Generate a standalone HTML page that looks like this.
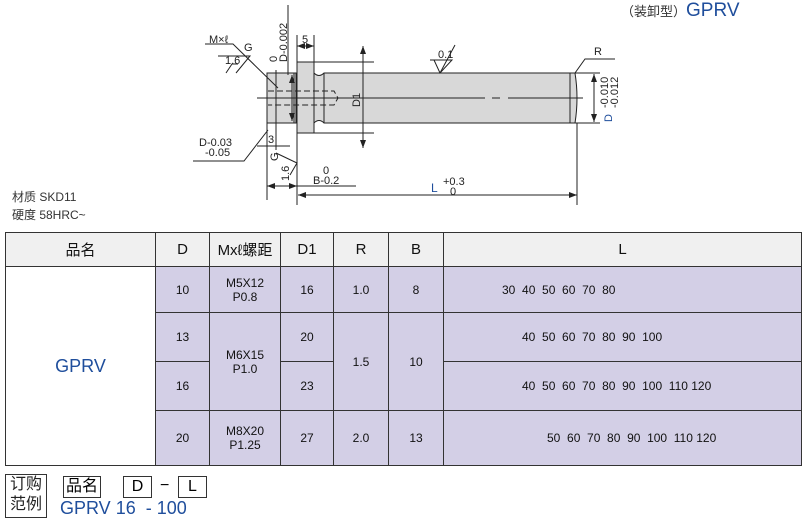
<!DOCTYPE html>
<html><head><meta charset="utf-8"><style>
body{margin:0;width:803px;height:519px;background:#fff;position:relative;overflow:hidden;font-family:"Liberation Sans","Noto Sans CJK SC",sans-serif;}
.t{position:absolute;white-space:nowrap}
table{position:absolute;left:5px;top:232px;border-collapse:collapse;font-family:"Liberation Sans","Noto Sans CJK SC",sans-serif;}
td{border:1.5px solid #333;text-align:center;padding:0;font-size:12px;color:#111}
.h td{background:#f0f0f0;font-size:15px;height:33px}
.p{background:#d3cfe6}
</style></head><body>
<div class="t" style="left:621px;top:0px;font-size:13px;color:#333">（装卸型）<span style="color:#1f4e9c;font-size:19px">GPRV</span></div>
<div class="t" style="left:12px;top:188px;font-size:12px;color:#333">材质 SKD11</div>
<div class="t" style="left:12px;top:206px;font-size:12px;color:#333">硬度 58HRC~</div>
<svg width="803" height="230" style="position:absolute;left:0;top:0" font-family="Liberation Sans, sans-serif" font-size="11" fill="#222">
<defs><marker id="a" markerWidth="8" markerHeight="6" refX="8" refY="3" orient="auto-start-reverse"><path d="M0,0L8,3L0,6z" fill="#222"/></marker></defs>
<g stroke="#222" stroke-width="1" fill="#d8d8d8">
<rect x="267" y="73" width="29" height="50"/>
<rect x="297" y="62" width="17" height="71"/>
<path d="M314,73 Q319,78 324,73 L575,73 Q579,98 575,123 L324,123 Q319,118 314,123 Z"/>
</g>
<g stroke="#222" stroke-width="1" fill="none">
<line x1="294" y1="73" x2="294" y2="123"/>
<line x1="324" y1="73" x2="324" y2="123"/>
<line x1="570" y1="73" x2="570" y2="123"/>
<path d="M268,91H334L338,98L334,105H268" stroke-dasharray="6,3"/>
<line x1="257" y1="98" x2="485" y2="98"/><line x1="492" y1="98" x2="500" y2="98"/><line x1="508" y1="98" x2="583" y2="98"/>
<line x1="288" y1="5" x2="288" y2="75"/>
<line x1="297" y1="35" x2="297" y2="205"/>
<line x1="314" y1="35" x2="314" y2="62"/>
<line x1="297" y1="46" x2="314" y2="46" marker-start="url(#a)" marker-end="url(#a)"/>
<line x1="314" y1="62" x2="374" y2="62"/><line x1="314" y1="133" x2="374" y2="133"/>
<line x1="363" y1="46" x2="363" y2="148" marker-start="url(#a)" marker-end="url(#a)"/>
<line x1="292" y1="75" x2="292" y2="121" marker-start="url(#a)" marker-end="url(#a)"/>
<line x1="267" y1="123" x2="267" y2="200"/>
<line x1="276" y1="70" x2="276" y2="150"/>
<line x1="257" y1="146" x2="290" y2="146"/>
<line x1="267" y1="186" x2="297" y2="186" marker-start="url(#a)" marker-end="url(#a)"/>
<line x1="297" y1="186" x2="356" y2="186"/>
<line x1="298" y1="195" x2="577" y2="195" marker-start="url(#a)" marker-end="url(#a)"/>
<line x1="577" y1="123" x2="577" y2="205"/>
<line x1="575" y1="73" x2="600" y2="73"/><line x1="575" y1="123" x2="600" y2="123"/>
<line x1="594" y1="74" x2="594" y2="122" marker-start="url(#a)" marker-end="url(#a)"/>
<path d="M575,73 L585,59 L615,59"/>
<path d="M205,44H233L278,88"/>
<path d="M218,56H250L236,73"/>
<path d="M226,73L232,64L238,64"/>
<path d="M193,161H244L268,130"/>
<path d="M276,153L297,163L290,175"/>
<path d="M430,60H452L440,73L434,60"/>
<path d="M440,73L455,45"/>
</g>
<text x="209" y="43">M×ℓ</text><text x="244" y="51">G</text><text x="225" y="64">1.6</text>
<text x="277" y="62" transform="rotate(-90 277 62)">0</text>
<text x="287" y="62" transform="rotate(-90 287 62)">D-0.002</text>
<text x="302" y="43">5</text><text x="438" y="58">0.1</text>
<text x="360" y="107" transform="rotate(-90 360 107)">D1</text>
<text x="594" y="55">R</text>
<text x="608" y="108" transform="rotate(-90 608 108)">-0.010</text>
<text x="618" y="108" transform="rotate(-90 618 108)">-0.012</text>
<text x="612" y="122" transform="rotate(-90 612 122)" fill="#1f4e9c">D</text>
<text x="199" y="146">D-0.03</text><text x="205" y="156">-0.05</text>
<text x="268" y="143">3</text>
<text x="278" y="161" transform="rotate(-90 278 161)">G</text>
<text x="289" y="181" transform="rotate(-90 289 181)">1.6</text>
<text x="323" y="174">0</text><text x="313" y="184">B-0.2</text>
<text x="431" y="192" fill="#1f4e9c" font-size="12">L</text><text x="443" y="185">+0.3</text><text x="450" y="195">0</text>
</svg>
<table>
<colgroup><col style="width:150px"><col style="width:54px"><col style="width:71px"><col style="width:53px"><col style="width:55px"><col style="width:55px"><col style="width:358px"></colgroup>
<tr class="h"><td>品名</td><td>D</td><td>Mxℓ螺距</td><td>D1</td><td>R</td><td>B</td><td>L</td></tr>
<tr style="height:46px"><td rowspan="4" style="color:#1f4e9c;font-size:18px;background:#fff">GPRV</td><td class="p">10</td><td class="p">M5X12<br>P0.8</td><td class="p">16</td><td class="p">1.0</td><td class="p">8</td><td class="p" style="text-align:left;padding-left:58px">30&nbsp; 40&nbsp; 50&nbsp; 60&nbsp; 70&nbsp; 80</td></tr>
<tr style="height:49px"><td class="p">13</td><td class="p" rowspan="2">M6X15<br>P1.0</td><td class="p">20</td><td class="p" rowspan="2">1.5</td><td class="p" rowspan="2">10</td><td class="p" style="text-align:left;padding-left:78px">40&nbsp; 50&nbsp; 60&nbsp; 70&nbsp; 80&nbsp; 90&nbsp; 100</td></tr>
<tr style="height:49px"><td class="p">16</td><td class="p">23</td><td class="p" style="text-align:left;padding-left:78px">40&nbsp; 50&nbsp; 60&nbsp; 70&nbsp; 80&nbsp; 90&nbsp; 100&nbsp; 110&nbsp;120</td></tr>
<tr style="height:55px"><td class="p">20</td><td class="p">M8X20<br>P1.25</td><td class="p">27</td><td class="p">2.0</td><td class="p">13</td><td class="p" style="text-align:left;padding-left:103px">50&nbsp; 60&nbsp; 70&nbsp; 80&nbsp; 90&nbsp; 100&nbsp; 110&nbsp;120</td></tr>
</table>
<div class="t" style="left:5px;top:474px;width:40px;height:42px;border:1.5px solid #333;font-size:16px;line-height:20px;text-align:center;color:#222">订购<br>范例</div>
<div class="t" style="left:63px;top:476px;border:1px solid #333;font-size:16px;padding:0 2px;line-height:20px">品名</div>
<div class="t" style="left:123px;top:476px;width:27px;border:1px solid #333;font-size:16px;text-align:center;line-height:20px">D</div>
<div class="t" style="left:160px;top:477px;font-size:16px">−</div>
<div class="t" style="left:178px;top:476px;width:27px;border:1px solid #333;font-size:16px;text-align:center;line-height:20px">L</div>
<div class="t" style="left:60px;top:498px;font-size:18px;color:#1f4e9c">GPRV 16&nbsp; - 100</div>
</body></html>
